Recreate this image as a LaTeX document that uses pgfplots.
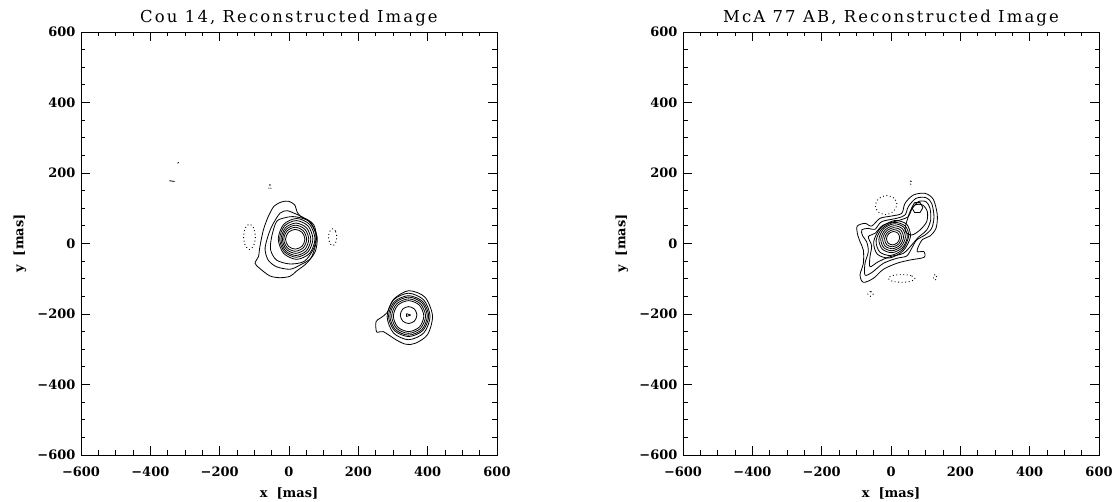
\documentclass[border=0pt]{standalone}
\usepackage{fontspec}
\setmainfont{DejaVu Serif}
\newfontfamily\titlefont[LetterSpace=13]{DejaVu Serif}
\usepackage{pgfplots}
\pgfplotsset{compat=1.18}

\pgfplotsset{
  imgpanel/.style={
    scale only axis, width=416bp, height=423bp,
    xmin=-600, xmax=600, ymin=-600, ymax=600,
    xtick={-600,-400,-200,0,200,400,600},
    ytick={-600,-400,-200,0,200,400,600},
    xticklabels={−600,−400,−200,0,200,400,600},
    yticklabels={−600,−400,−200,0,200,400,600},
    minor tick num=3,
    major tick length=9bp, minor tick length=4.5bp,
    tick align=inside, xtick pos=both, ytick pos=both,
    xticklabel pos=lower, yticklabel pos=left,
    axis line style={line width=0.9bp, black},
    tick style={line width=0.8bp, black},
    tick label style={font=\fontsize{13}{15}\selectfont\bfseries},
    xticklabel style={anchor=base, yshift=-21.5bp, inner sep=0pt},
    yticklabel style={anchor=east, xshift=-5.5bp, inner sep=0pt},
    xlabel={x~~[mas]}, ylabel={y~~[mas]},
    label style={font=\fontsize{13}{15}\selectfont\bfseries},
    xlabel style={at={(axis description cs:0.5,-0.0993)}, anchor=base},
    ylabel style={at={(axis description cs:-0.1466,0.5)}, anchor=center},
    title style={font=\titlefont\fontsize{16.5}{18}\selectfont,
      at={(axis description cs:0.5,1.0085)}, anchor=base, inner sep=0pt},
    cycle list={{black, mark=none}},
    every axis plot/.append style={black, line width=0.8bp, mark=none, line join=round},
  },
  dots/.style={black, line width=0.9bp, dash pattern=on 0.9bp off 2.6bp},
}

\begin{document}
\begin{tikzpicture}
\useasboundingbox (-81bp,-47bp) rectangle (1033bp,455bp);

% ---------------- Cou 14 ----------------
\begin{axis}[imgpanel, at={(0,0)}, anchor=south west,
  title={Cou 14, Reconstructed Image}]
% primary: outer contours
\addplot[smooth cycle] coordinates {(-21,118) (-2,120) (16,110) (24,88) (34,76) (62,60) (81,20) (76,-22) (52,-55) (22,-78) (3,-93) (-26,-97) (-55,-92) (-84,-71) (-98,-56) (-88,-37) (-84,-9) (-74,38) (-60,76) (-43,106)};
\addplot[smooth cycle] coordinates {(-5,93) (-26,86) (-50,48) (-64,10) (-69,-18) (-60,-47) (-36,-66) (3,-73) (32,-61) (64,-40) (79,10) (71,54) (37,76) (12,87)};
\addplot[smooth cycle] coordinates {(-36,62) (-50,19) (-53,-18) (-36,-47) (3,-58) (45,-50) (72,-12) (77,28) (56,64) (17,76) (-12,73)};
% primary: rings
\addplot[smooth cycle] coordinates {(75,13) (59.5,54) (22,71) (-15.5,54) (-31,13) (-15.5,-28) (22,-45) (59.5,-28)};
\addplot[smooth cycle] coordinates {(69,13) (54.9,49.8) (21,65) (-12.9,49.8) (-27,13) (-12.9,-23.8) (21,-39) (54.9,-23.8)};
\addplot[smooth cycle] coordinates {(63,12) (50.4,44.5) (20,58) (-10.4,44.5) (-23,12) (-10.4,-20.5) (20,-34) (50.4,-20.5)};
\addplot[smooth cycle] coordinates {(57,12) (45.9,40.3) (19,52) (-7.9,40.3) (-19,12) (-7.9,-16.3) (19,-28) (45.9,-16.3)};
\addplot[smooth cycle] coordinates {(51,12) (41.3,36) (18,46) (-5.3,36) (-15,12) (-5.3,-12) (18,-22) (41.3,-12)};
\addplot[smooth cycle] coordinates {(46,12) (37.8,31.8) (18,40) (-1.8,31.8) (-10,12) (-1.8,-7.8) (18,-16) (37.8,-7.8)};
% companion
\addplot[smooth cycle] coordinates {(345,-134) (392,-152) (414,-205) (400,-258) (365,-283) (338,-286) (310,-274) (272,-250) (253,-251) (251,-222) (263,-212) (283,-196) (302,-158)};
\addplot[smooth cycle] coordinates {(407,-207) (388.8,-160.3) (345,-141) (301.2,-160.3) (283,-207) (301.2,-253.7) (345,-273) (388.8,-253.7)};
\addplot[smooth cycle] coordinates {(403,-206) (386,-165) (345,-148) (304,-165) (287,-206) (304,-247) (345,-264) (386,-247)};
\addplot[smooth cycle] coordinates {(399,-206) (383.2,-167.8) (345,-152) (306.8,-167.8) (291,-206) (306.8,-244.2) (345,-260) (383.2,-244.2)};
\addplot[smooth cycle] coordinates {(394,-206) (379.6,-171.4) (345,-157) (310.4,-171.4) (296,-206) (310.4,-240.6) (345,-255) (379.6,-240.6)};
\addplot[smooth cycle] coordinates {(389,-206) (376.1,-174.9) (345,-162) (313.9,-174.9) (301,-206) (313.9,-237.1) (345,-250) (376.1,-237.1)};
\addplot[smooth cycle] coordinates {(369,-203) (362,-186) (345,-179) (328,-186) (321,-203) (328,-220) (345,-227) (362,-220)};
\addplot[sharp plot] coordinates {(339,-199) (351,-203) (339,-207) (339,-199)};
% small features
\addplot[sharp plot] coordinates {(-345,178) (-330,176)};
\addplot[sharp plot] coordinates {(-321,227) (-319,231)};
\addplot[dots, smooth cycle] coordinates {(-97,19) (-102,44) (-114,55) (-126,44) (-131,19) (-126,-6) (-114,-17) (-102,-6)};
\addplot[dots, smooth cycle] coordinates {(138,18) (134,35) (126,42) (118,35) (114,18) (118,1) (126,-6) (134,1)};
\addplot[dots, smooth cycle] coordinates {(-51,160) (-55,167) (-59,160) (-55,153)};
\end{axis}

% ---------------- McA 77 AB ----------------
\begin{axis}[imgpanel, at={(602bp,0)}, anchor=south west,
  title={McA 77 AB, Reconstructed Image}]
% outer contours
\addplot[smooth cycle] coordinates {(-97.1,49.6) (-75,57.2) (-55.8,49.6) (-31.7,71.4) (1.9,78) (30.8,85.5) (40.4,113.9) (64.4,137.5) (98.1,142.3) (122.1,125.3) (133.6,80.8) (129.8,43) (112.5,21.2) (91.3,11.8) (78.8,-9) (75.9,-23.2) (95.2,-23.2) (95.2,-39.3) (54.8,-46.8) (16.3,-56.3) (-22.1,-73.3) (-51,-98.9) (-79.8,-110.2) (-89.4,-89.4) (-79.8,-56.3) (-79.8,-18.5) (-89.4,5.2) (-97.1,28.8)};
\addplot[smooth cycle] coordinates {(-84.6,38.3) (-65.4,43) (-46.2,40.1) (-26.9,61.9) (16.3,71.4) (40.4,80.8) (50,104.4) (72.1,128.1) (101,130) (117.3,113.9) (124,76.1) (117.3,43) (98.1,24.1) (74,9.9) (59.6,-13.8) (45.2,-35.5) (16.3,-42.1) (-22.1,-56.3) (-55.8,-82.8) (-75,-89.4) (-75,-56.3) (-65.4,-23.2) (-70.2,4.8) (-81.7,21.2)};
\addplot[smooth cycle] coordinates {(-65.4,19.3) (-46.2,28.8) (-22.1,52.4) (26,66.6) (50,76.1) (59.6,96.9) (78.8,118.6) (101,118.6) (112.5,99.7) (114.4,66.6) (102.9,38.3) (78.8,17.5) (59.6,-4.3) (35.6,-27.9) (-2.9,-37.4) (-36.6,-51.6) (-60.6,-65.8) (-60.6,-37.4) (-55.8,-7)};
\addplot[smooth cycle] coordinates {(54.8,90.3) (69.2,109.2) (91.3,109.2) (104.8,90.3) (102.9,61.9) (83.6,38.3) (59.6,24.1) (40.4,38.3)};
% secondary peak
\addplot[sharp plot] coordinates {(92,102) (84,116) (68,116) (60,102) (68,88) (84,88) (92,102)};
% primary rings
\addplot[smooth cycle] coordinates {(45.4,54.4) (10,65) (-29.5,44.5) (-50,5) (-39.4,-30.4) (-4,-41) (35.5,-20.5) (56,19)};
\addplot[smooth cycle] coordinates {(40.8,49.8) (9,60) (-25.7,42.7) (-43,8) (-32.8,-23.8) (-1,-34) (33.7,-16.7) (51,21)};
\addplot[smooth cycle] coordinates {(37.1,46.1) (9,56) (-20.9,41.9) (-35,12) (-25.1,-16.1) (3,-26) (32.9,-11.9) (47,18)};
\addplot[smooth cycle] coordinates {(32.9,41.9) (8.5,50.5) (-17.3,38.3) (-29.5,12.5) (-20.9,-11.9) (3.5,-20.5) (29.3,-8.3) (41.5,17.5)};
\addplot[smooth cycle] coordinates {(28.6,37.6) (8,45) (-13.8,34.8) (-24,13) (-16.6,-7.6) (4,-15) (25.8,-4.8) (36,17)};
\addplot[smooth cycle] coordinates {(24.4,33.4) (7.5,39.5) (-10.3,31.3) (-18.5,13.5) (-12.4,-3.4) (4.5,-9.5) (22.3,-1.3) (30.5,16.5)};
\addplot[smooth cycle] coordinates {(20.1,29.1) (7,34) (-6.7,27.7) (-13,14) (-8.1,0.9) (5,-4) (18.7,2.3) (25,16)};
% negative (dotted) contours
\addplot[dots, smooth cycle] coordinates {(17,112) (8,129) (-14,136) (-37,126) (-45,106) (-36,89) (-14,82) (8,92)};
\addplot[dots, smooth cycle] coordinates {(69,-99) (58,-91) (31,-88) (4,-91) (-8,-99) (4,-107) (31,-110) (58,-107)};
\addplot[dots, smooth cycle] coordinates {(132,-96) (127,-88) (122,-96) (127,-104)};
\addplot[dots, smooth cycle] coordinates {(-51,-143) (-59,-136) (-67,-143) (-59,-150)};
\addplot[dots, smooth cycle] coordinates {(60,173) (57,178) (54,173) (57,168)};
\end{axis}
\end{tikzpicture}
\end{document}
